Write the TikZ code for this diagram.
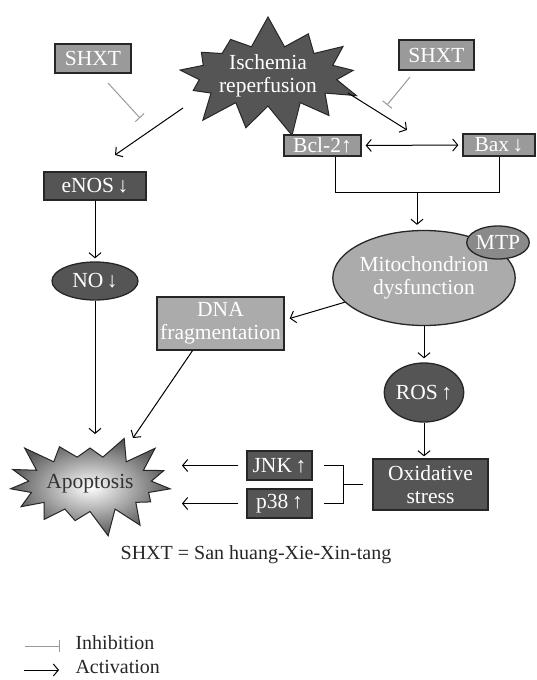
\documentclass[tikz,border=0pt]{standalone}
\usepackage{fontspec}
\setmainfont{Liberation Serif}
\usetikzlibrary{shapes.geometric,shapes.symbols,arrows.meta,calc}

\definecolor{darkfill}{HTML}{555555}
\definecolor{midfill}{HTML}{9A9A9A}
\definecolor{lightfill}{HTML}{ABABAB}
\definecolor{mtpfill}{HTML}{8A8A8A}

\begin{document}
\begin{tikzpicture}[x=1pt,y=-1pt,font=\fontsize{20}{23}\selectfont]

    \tikzset{
      box/.style={draw=black!85,line width=1.3pt,fill=#1,text=white,inner sep=0pt,align=center,font=\fontsize{21.5}{23}\selectfont},
      ell/.style={ellipse,draw=black!85,line width=1.3pt,fill=#1,text=white,inner sep=0pt,align=center,font=\fontsize{21.5}{23}\selectfont},
      act/.style={line width=1pt,-{Straight Barb[length=5pt,width=12pt]}},
      biact/.style={line width=1pt,{Straight Barb[length=5pt,width=12pt]}-{Straight Barb[length=5pt,width=12pt]}},
      inh/.style={line width=1pt,draw=black!40,-{Bar[width=12pt]}},
    }
    \useasboundingbox (0,0) rectangle (537,680);

	% top row
	\node[box=midfill,minimum width=76pt,minimum height=29pt] (shxtL) at (93,58.5) {SHXT};
	\node[box=midfill,minimum width=75pt,minimum height=30pt] (shxtR) at (436.5,55) {SHXT};
	\node[starburst,starburst points=13,starburst point height=32pt,random starburst=7,
	      draw=black!85,line width=1pt,fill=darkfill,text=white,align=center,inner sep=0pt,
	      font=\fontsize{21.5}{23}\selectfont] (isch) at (268,76) {Ischemia\\reperfusion};

	% left branch
	\node[box=darkfill,minimum width=102pt,minimum height=28pt] (enos) at (95,186) {eNOS\,↓};
	\node[ell=darkfill,minimum width=86pt,minimum height=38pt] (no) at (95,281) {NO\,↓};
	\node[box=lightfill,minimum width=127pt,minimum height=53pt] (dna) at (220.5,323.5) {DNA\\fragmentation};

	% right branch
	\node[box=midfill,minimum width=77pt,minimum height=21pt] (bcl) at (322.5,145.5) {Bcl-2↑};
	\node[box=midfill,minimum width=72pt,minimum height=22pt] (bax) at (499,145) {Bax\,↓};
	\node[ell=lightfill,minimum width=152pt,minimum height=95pt] (mito) at (424,278) {Mitochondrion\\dysfunction};
	\node[ell=mtpfill,minimum width=58pt,minimum height=33pt] (mtp) at (498,242.5) {MTP};
	\node[ell=darkfill,minimum width=77pt,minimum height=59pt] (ros) at (424,392.5) {ROS\,↑};
	\node[box=darkfill,minimum width=115pt,minimum height=51pt] (oxid) at (430.5,484.5) {Oxidative\\stress};
	\node[box=darkfill,minimum width=65pt,minimum height=29pt] (jnk) at (279.5,465.5) {JNK\,↑};
	\node[box=darkfill,minimum width=65pt,minimum height=29pt] (p38) at (279.5,503.5) {p38\,↑};

	% apoptosis
	\node[starburst,starburst points=15,starburst point height=27pt,random starburst=3,
	      draw=black!85,line width=1pt,shading=radial,inner color=white,outer color=black!65,
	      text=black!80,inner xsep=0pt,inner ysep=10pt,font=\fontsize{21.5}{23}\selectfont] (apop) at (90,484) {Apoptosis};

	% connectors
	\coordinate (iL) at (183,108);
	\coordinate (enosIn) at (115,155);
	\coordinate (iR) at (348,93);
	\coordinate (bclIn) at (407,130);
	\draw[act] (iL) -- (enosIn);
	\draw[act] (iR) -- (bclIn);

	\coordinate (shLa) at (108,83);
	\coordinate (shLb) at (140,118);
	\coordinate (shRa) at (410,77);
	\coordinate (shRb) at (387,105);
	\draw[inh] (shLa) -- (shLb);
	\draw[inh] (shRa) -- (shRb);

	\draw[act,shorten >=3pt] (enos.south) -- (no.north);
	\coordinate (apopN) at (95,434);
	\draw[act] (no.south) -- (apopN);
	\coordinate (apopD) at (133,438);
	\draw[act] ($(dna.south)+(-28,0)$) -- (apopD);

	\draw[biact,shorten <=4pt,shorten >=4pt] (bcl.east) -- (bax.west);
	\coordinate (brkL) at (335,192);
	\coordinate (brkR) at (499,192);
	\coordinate (brkM) at (417,192);
	\draw[line width=1pt] (brkL |- bcl.south) -- (brkL) -- (brkR) -- (bax.south);
	\draw[act,shorten >=5pt] (brkM) -- (brkM |- mito.north);

	\draw[act] (mito.197) -- ($(dna.east)+(5,-5)$);
	\draw[act,shorten >=4pt] (mito.south) -- (ros.north);
	\draw[act,shorten >=2pt] (ros.south) -- (ros.south |- oxid.north);

	\coordinate (obx) at (343,484.5);
	\draw[line width=1pt] ($(oxid.west)+(-9,0)$) -- (obx);
	\draw[line width=1pt] ($(jnk.east)+(11,0)$) -| (obx |- p38.east) -- ($(p38.east)+(11,0)$);

	\coordinate (apopJ) at (182,465.5);
	\coordinate (apopP) at (182,503.5);
	\draw[act,shorten <=8pt] (jnk.west) -- (apopJ);
	\draw[act,shorten <=8pt] (p38.west) -- (apopP);

	% caption and legend
	\node[text=black!85] (caption) at (256,555) {SHXT = San huang-Xie-Xin-tang};
	\node[anchor=west,text=black!85] (lgInh) at (72,643) {Inhibition};
	\node[anchor=west,text=black!85] (lgAct) at (72,667) {Activation};
	\draw[inh] ($(lgInh.west)+(-47,3)$) -- ($(lgInh.west)+(-12,3)$);
	\draw[act] ($(lgAct.west)+(-48,3)$) -- ($(lgAct.west)+(-13,3)$);

\end{tikzpicture}
\end{document}
